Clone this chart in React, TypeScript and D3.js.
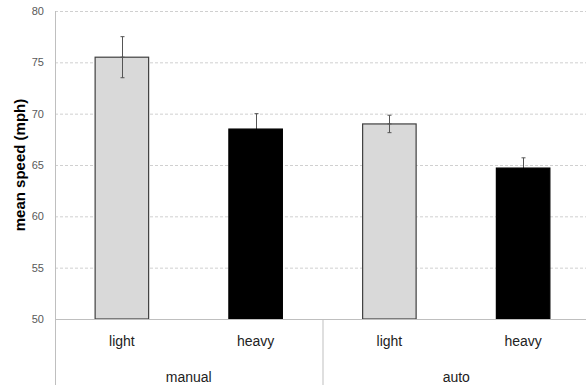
import React, { useEffect, useRef } from 'react';
import * as d3 from 'd3';

const groups = ['manual', 'auto'];
const loads = ['light', 'heavy'];
const means = [75.5, 68.5, 69.0, 64.7];
const errs = [2.0, 1.5, 0.85, 1.0];
const yTicks = [50, 55, 60, 65, 70, 75, 80];

const W = 586;
const H = 385;

const App = () => {
  const ref = useRef<SVGSVGElement>(null);

  useEffect(() => {
    if (!ref.current) return;
    const svg = d3.select(ref.current);
    svg.selectAll('*').remove();

    const left = 55, right = 590, top = 11, bottom = 319;
    const cats = groups.flatMap(g => loads.map(l => `${g}|${l}`));
    const data = cats.map((c, i) => ({ key: c, load: c.split('|')[1], v: means[i], e: errs[i] }));

    const x = d3.scaleBand().domain(cats).range([left, right]).paddingInner(0.6).paddingOuter(0.3);
    const xb = d3.scaleBand().domain(cats).range([left, right]);
    const y = d3.scaleLinear().domain([50, 80]).range([bottom, top]);

    const font = '"Liberation Sans", Arial, sans-serif';

    // grid
    svg.append('g')
      .selectAll('line')
      .data(yTicks.filter(t => t > 50))
      .join('line')
      .attr('x1', left).attr('x2', W)
      .attr('y1', d => y(d) + 0.5).attr('y2', d => y(d) + 0.5)
      .attr('stroke', '#d0d0d0')
      .attr('stroke-dasharray', '3,2');

    // tick labels
    svg.append('g')
      .selectAll('text')
      .data(yTicks)
      .join('text')
      .attr('x', 44)
      .attr('y', d => y(d) + 4)
      .attr('text-anchor', 'end')
      .attr('font-family', '"Liberation Sans Narrow", "Liberation Sans", Arial, sans-serif')
      .attr('font-size', 11)
      .attr('fill', '#595959')
      .text(d => d);

    // error bars (drawn under the bars, so the lower half hides behind dark fills)
    const drawErr = (g: d3.Selection<SVGGElement, unknown, null, undefined>, d: typeof data[0], lo: number, hi: number) => {
      const cx = Math.round(x(d.key)! + x.bandwidth() / 2) + 0.5;
      g.append('line').attr('x1', cx).attr('x2', cx).attr('y1', y(hi)).attr('y2', y(lo));
      g.append('line').attr('x1', cx - 2).attr('x2', cx + 2).attr('y1', y(hi)).attr('y2', y(hi));
      if (lo < d.v) g.append('line').attr('x1', cx - 2).attr('x2', cx + 2).attr('y1', y(lo)).attr('y2', y(lo));
    };
    const ebUnder = svg.append('g').attr('stroke', '#555').attr('stroke-width', 1);
    data.forEach(d => drawErr(ebUnder, d, d.v - d.e, d.v + d.e));

    // bars
    svg.append('g')
      .selectAll('rect')
      .data(data)
      .join('rect')
      .attr('x', d => x(d.key)!)
      .attr('y', d => y(d.v))
      .attr('width', x.bandwidth())
      .attr('height', d => y(50) - y(d.v))
      .attr('fill', d => d.load === 'light' ? '#d9d9d9' : '#000')
      .attr('stroke', d => d.load === 'light' ? '#404040' : '#000')
      .attr('stroke-width', 1.2);

    // lower halves visible over light bars
    const ebOver = svg.append('g').attr('stroke', '#555').attr('stroke-width', 1);
    data.filter(d => d.load === 'light').forEach(d => drawErr(ebOver, d, d.v - d.e, d.v));

    // axes
    svg.append('line')
      .attr('x1', left + 0.5).attr('x2', left + 0.5)
      .attr('y1', top).attr('y2', H)
      .attr('stroke', '#bfbfbf');
    svg.append('line')
      .attr('x1', left).attr('x2', W)
      .attr('y1', bottom + 0.5).attr('y2', bottom + 0.5)
      .attr('stroke', '#bfbfbf');
    const sep = xb(`${groups[1]}|${loads[0]}`)!;
    svg.append('line')
      .attr('x1', sep + 0.5).attr('x2', sep + 0.5)
      .attr('y1', bottom).attr('y2', H)
      .attr('stroke', '#bfbfbf');

    // category labels
    svg.append('g')
      .selectAll('text')
      .data(data)
      .join('text')
      .attr('x', d => xb(d.key)! + xb.bandwidth() / 2)
      .attr('y', 346)
      .attr('text-anchor', 'middle')
      .attr('font-family', font)
      .attr('font-size', 14)
      .attr('fill', '#222')
      .text(d => d.load);

    svg.append('g')
      .selectAll('text')
      .data(groups)
      .join('text')
      .attr('x', g => xb(`${g}|${loads[0]}`)! + xb.bandwidth())
      .attr('y', 382)
      .attr('text-anchor', 'middle')
      .attr('font-family', font)
      .attr('font-size', 14)
      .attr('fill', '#222')
      .text(g => g);

    // y title
    svg.append('text')
      .attr('transform', `translate(25, ${(top + bottom) / 2}) rotate(-90)`)
      .attr('text-anchor', 'middle')
      .attr('font-family', font)
      .attr('font-size', 15)
      .attr('font-weight', 'bold')
      .attr('fill', '#000')
      .text('mean speed (mph)');
  }, []);

  return (
    <svg
      ref={ref}
      width={W}
      height={H}
      style={{ position: 'absolute', left: 0, top: 0, background: '#fff' }}
    />
  );
};

export default App;
